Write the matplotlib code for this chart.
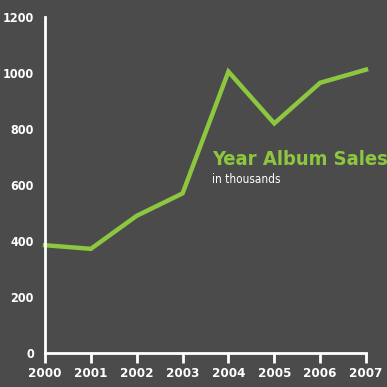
import matplotlib
matplotlib.use("Agg")
import matplotlib.pyplot as plt

years = [2000, 2001, 2002, 2003, 2004, 2005, 2006, 2007]
sales = [385, 372, 490, 570, 1005, 820, 965, 1012]
yticks = [0, 200, 400, 600, 800, 1000, 1200]

bg = "#4b4b4b"
green = "#8dc63f"
font = "DejaVu Sans"

fig = plt.figure(figsize=(3.87, 3.87), dpi=100, facecolor=bg)
ax = fig.add_axes([45 / 387, 34 / 387, 321 / 387, 336 / 387])
ax.set_facecolor(bg)

ax.plot(years, sales, color=green, linewidth=3.2, solid_joinstyle="miter", clip_on=False)

ax.set_xlim(2000, 2007)
ax.set_ylim(0, 1200)
ax.set_xticks(years)
ax.set_yticks(yticks)
ax.set_xticklabels([str(y) for y in years], fontfamily=font, fontweight="bold",
                   fontstretch="condensed", fontsize=9.5, color="white")
ax.set_yticklabels([str(v) for v in yticks], fontfamily=font, fontweight="bold",
                   fontstretch="condensed", fontsize=9, color="white")

for side in ["top", "right"]:
    ax.spines[side].set_visible(False)
for side in ["left", "bottom"]:
    ax.spines[side].set_color("white")
    ax.spines[side].set_linewidth(2)

ax.tick_params(axis="x", direction="out", length=7, width=2, color="white", pad=3)
ax.tick_params(axis="y", length=0, pad=8)

ax.text(0.52, 0.56, "Year Album Sales", transform=ax.transAxes,
        fontfamily=font, fontweight="bold", fontstretch="condensed",
        fontsize=14.5, color=green)
ax.text(0.52, 0.505, "in thousands", transform=ax.transAxes,
        fontfamily=font, fontstretch="condensed", fontsize=8.5, color="white")

fig.savefig("out.png", dpi=100, facecolor=bg)
